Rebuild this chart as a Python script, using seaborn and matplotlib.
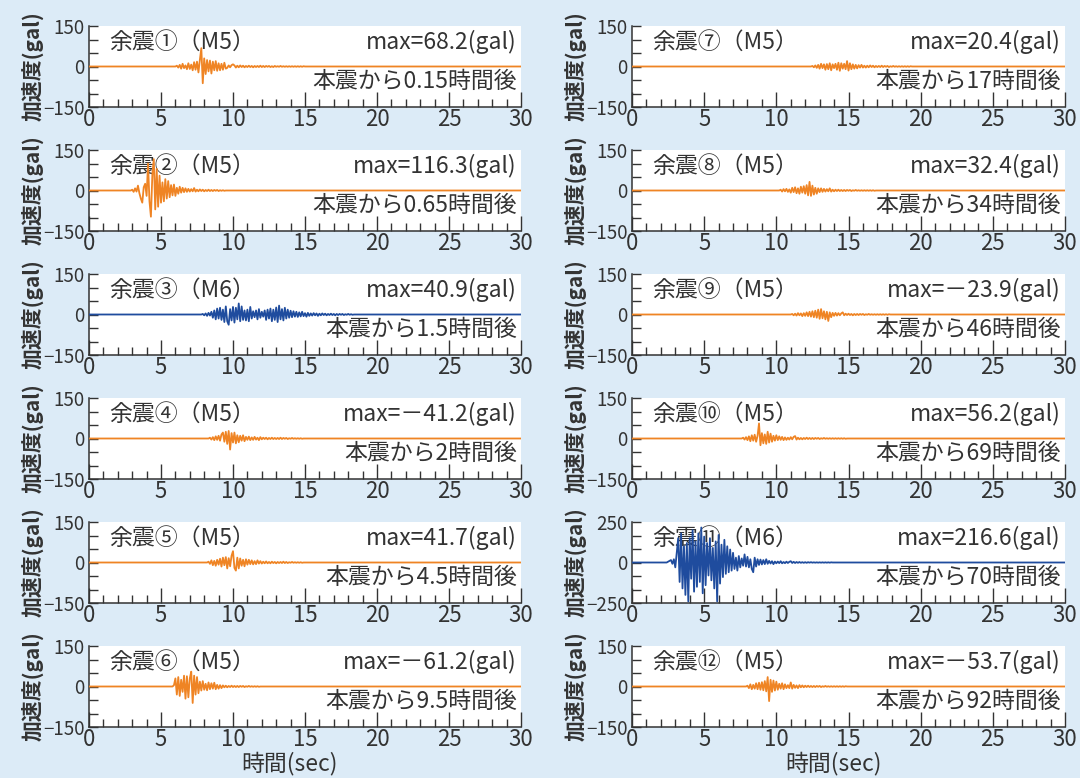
import numpy as np
import pandas as pd
import matplotlib
matplotlib.use("Agg")
import matplotlib.pyplot as plt
import seaborn as sns
from matplotlib.ticker import MultipleLocator, FixedLocator

# ==========================
# データ
# ==========================
DT = 0.1  # サンプリング間隔(sec)

names = ["余震①（M5）", "余震②（M5）", "余震③（M6）", "余震④（M5）", "余震⑤（M5）", "余震⑥（M5）",
         "余震⑦（M5）", "余震⑧（M5）", "余震⑨（M5）", "余震⑩（M5）", "余震⑪（M6）", "余震⑫（M5）"]
max_labels = ["max=68.2(gal)", "max=116.3(gal)", "max=40.9(gal)", "max=－41.2(gal)",
              "max=41.7(gal)", "max=－61.2(gal)", "max=20.4(gal)", "max=32.4(gal)",
              "max=－23.9(gal)", "max=56.2(gal)", "max=216.6(gal)", "max=－53.7(gal)"]
after_labels = ["本震から0.15時間後", "本震から0.65時間後", "本震から1.5時間後", "本震から2時間後",
                "本震から4.5時間後", "本震から9.5時間後", "本震から17時間後", "本震から34時間後",
                "本震から46時間後", "本震から69時間後", "本震から70時間後", "本震から92時間後"]
magnitudes = ["M5", "M5", "M6", "M5", "M5", "M5", "M5", "M5", "M5", "M5", "M6", "M5"]
y_max = [150, 150, 150, 150, 150, 150, 150, 150, 150, 150, 250, 150]

# 立ち上がり時刻(sec)
onsets = [6.0, 2.9, 7.8, 8.3, 8.2, 5.8, 12.4, 10.2, 11.0, 7.6, 2.4, 7.9]

acc_1 = [0, 3, -4, 6, -8, 10, -6, 4, -10, 12, -9, 7, -14, 16, -12,
         18, -22, 25, 68, -62, 30,
         -28, 24, -18, 22, -26, 18, -14, 20, -16, 12,
         -14, 10, -12, 14, -8, -5, 4, -3, 5, 8,
         4, -4, 3, -3, 4, -2, 3, -3, 2, -2,
         3, -2, 2, -3, 2, -2, 2, -2, 3, -2, 2, -2, 2, -1, 2, -2, 1, -2, 2, -1,
         1, -1, 2, -1, 1, -1, 1, -1, 1, -1, 1, -1, 1, -1, 1, -1, 1, -1, 1, 0]
acc_2 = [0, 3, -5, 8, -4,
         18, -10, -30, -45, 12, 25,
         -20, 100, -40, -97, 60, 116, -70, 80, -60, 55,
         -45, 30, -40, 42, -30, 35, -25, 20, -18, 22,
         -20, 10, -12, 14, -8, 10, -6, 8, -5, 6,
         -4, 5, -3, 9, -4, 3, -3, 4, -2, 3,
         -3, 2, -2, 3, -2, 2, -2, 2, -1, 2, -2, 1, -1, 1, -1, 0]
acc_3 = [0, 2, -3, 4, -5, 6, -4,
         10, -12, 15, -18, 22, -15, 25, -20, 18, -28,
         30, -25, -38, 20, -22, 28, -30, 25, -18, 41,
         -25, 30, -20, 15, -22, 18, -25, 28, -15, 12,
         -10, 15, -18, 20, -12, 10, -8, 15, -20, 18,
         -15, 22, -25, 18, -20, 26, -28, 33, -18, 20,
         -22, 25, -15, 18, -12, 14, -10, 12, -8, 10,
         -9, 8, -7, 10, -6, 5, -8, 6, -5, 4,
         -4, 5, -3, 4, -5, 3, -3, 4, -2, 3,
         -3, 2, -2, 3, -2, 2, -3, 2, -2, 2, -1, 2, -2, 1, -1, 2, -1, 1, -1, 0]
acc_4 = [0, 3, -4, 5, -6, 8, -5,
         10, -8, 15, 22, -12, 25, -20, 28, -41, 20,
         -15, 22, -18, 12, -14, 10, -8, 12, -10, 6,
         -5, 7, -6, 4, -5, 6, -4, 3, -6, 5,
         -3, 3, -2, 3, -3, 2, -2, 3, -2, 2, -2, 2, -2, 3, -2, 2, -1, 2, -2, 1,
         -1, 2, -1, 1, -1, 1, -1, 1, -1, 0]
acc_5 = [0, 3, -5, 8, -10, 6, -12, 10,
         -8, 14, -15, 18, -10, 20, -22, 16, -14, 25,
         42, -20, -30, 18, -22, 15, -12, 10, -14, 12,
         -8, 10, -6, 8, -7, 5, -6, 8, -4, 5,
         -4, 3, -3, 4, -3, 2, -3, 3, -2, 2, -3, 2, -2, 2, -2, 3, -2, 2, -2, 1,
         -1, 2, -1, 1, -1, 1, -1, 1, -1, 0]
acc_6 = [0, 5, 30, -30, 35, -35, 25,
         -20, 40, -45, 38, -40, 30, 55, -61, 40, -30,
         35, -25, 18, -15, 20, -12, 10, -14, 15, -10,
         12, -8, 14, -10, 6, -8, 5, -6, 4, -3,
         3, -3, 2, -2, 3, -2, 2, -2, 2, -2, 2, -1, 2, -2, 1, -1, 2, -1, 1, -1,
         1, -1, 1, -1, 0]
acc_7 = [0, 2, -3, 4, -5, 6,
         -8, 10, -6, 8, -12, 9, -10, 12, -14, 8,
         -6, 10, -12, 14, -16, 12, -8, 10, -10, 20,
         -15, 12, -10, 8, -8, 6, -7, 5, -4, 6,
         -4, 3, -4, 3, -3, 4, -2, 3, -3, 2,
         -2, 2, -2, 3, -2, 2, -1, 2, -2, 1, -1, 2, -1, 1, -1, 1, -1, 1, -1, 1,
         -1, 1, -1, 1, 0]
acc_8 = [0, 3, -4, 5, -3, 6, -5, 4,
         -8, 10, -6, 12, -10, 8, -12, 14, -8, 16,
         -12, 20, -18, 32, -20, 18, -15, 10, -12, 8,
         -6, 8, -5, 6, -4, 5, -3, 8, -4, 3,
         -3, 3, -2, 3, -2, 2, -2, 2, -2, 2, -1, 2, -2, 1, -1, 2, -1, 1, -1, 1,
         -1, 1, -1, 1, -1, 1, -1, 1, -1, 0]
acc_9 = [0, 2, -3, 3, -4, 5, -3, 4, -6, 5,
         -5, 8, -6, 10, -8, 12, -10, 14, -12, 18,
         -16, 20, -14, 12, -18, 10, -24, 8, -10, 6,
         -5, 6, -4, 5, -3, 4, 8, -3, 3, -2,
         3, -2, 2, -3, 2, -2, 2, -2, 2, -1, 2, -2, 1, -1, 2, -1, 1, -1, 1, -1,
         1, -1, 1, -1, 1, -1, 1, -1, 1, 0]
acc_10 = [0, 3, -4, 5,
          -6, 8, -10, 12, -8, 14, -12, 10, 56, -25,
          20, -18, 15, -20, 25, -15, 18, -12, 10, -8,
          12, -6, 8, -5, 6, -6, 4, -5, 3, -4,
          5, -3, 6, 9, -4, 3, -3, 2, -3, 2,
          -2, 3, -2, 2, -2, 2, -2, 2, -1, 2, -2, 1, -1, 2, -1, 1, -1, 1, -1, 1,
          -1, 1, -1, 1, -1, 1, -1, 1, -1, 0]
acc_11 = [0, 5, 10, 15, -8, 20,
          -30, 60, 150, -120, 180, -160, 100, -200, 120, -240,
          150, -100, 200, -180, 130, -150, 180, -120, 216, -190,
          160, -140, 120, -80, 150, -110, 90, -160, 130, -240,
          170, -130, 110, -90, 140, -70, 100, -60, 80, -50,
          60, -40, 30, -50, 40, -30, 25, -20, 50, -25,
          35, -30, 20, -40, -60, 30, -25, 20, -15, 18,
          -12, 15, -10, 20, -8, 10, -6, 8, -10, 6,
          -5, 6, -4, 8, -5, 3, -4, 5, -3, 4,
          8, -3, 4, -3, 3, -2, 3, -2, 2, -2, 2, -2, 2, -1, 2, -1, 1, -1, 1, -1,
          1, -1, 1, -1, 1, -1, 1, -1, 1, 0]
acc_12 = [0, 3, -6, 8, -10, 6, -8, 12, -10, 14, -12,
          16, -14, 20, -18, 35, -54, 25, -20, 22, -15,
          18, -12, 10, -8, 12, -10, 8, -6, 5, -6,
          15, -8, 6, -5, 4, -6, 5, -3, 4, -3,
          3, -2, 3, -2, 2, -2, 2, -2, 2, -1, 2, -2, 1, -1, 2, -1, 1, -1, 1, -1,
          1, -1, 1, -1, 1, -1, 1, -1, 1, 0]
records = [acc_1, acc_2, acc_3, acc_4, acc_5, acc_6,
           acc_7, acc_8, acc_9, acc_10, acc_11, acc_12]

x_ticks = [0, 5, 10, 15, 20, 25, 30]

# ==========================
# スタイル
# ==========================
sns.set_theme(style="ticks")
plt.rcParams["font.family"] = ["Noto Sans CJK JP", "DejaVu Sans"]

BG = "#dcebf7"
ORANGE = "#ef8424"
BLUE = "#1f4c9e"
DARK = "#333333"

fig = plt.figure(figsize=(10.8, 7.78), dpi=100, facecolor=BG)

W, H = 1080, 778
col_left = [89, 632]
col_width = [432, 433]
row_top0, row_step, ax_h = 26, 124, 81

for i, acc in enumerate(records):
    col, row = divmod(i, 6)
    top = row_top0 + row * row_step
    ax = fig.add_axes([col_left[col] / W, 1 - (top + ax_h) / H,
                       col_width[col] / W, ax_h / H])
    ax.set_facecolor("white")

    t = onsets[i] + DT * np.arange(len(acc))
    df = pd.DataFrame({
        "time": np.concatenate([[0.0], t, [30.0]]),
        "acc": np.concatenate([[0.0], np.asarray(acc, float), [0.0]]),
    })
    color = BLUE if magnitudes[i] == "M6" else ORANGE
    sns.lineplot(data=df, x="time", y="acc", ax=ax, color=color,
                 linewidth=1.3, estimator=None, zorder=3)

    ym = y_max[i]
    ax.set_xlim(0, 30)
    ax.set_ylim(-ym, ym)
    ax.set_xticks(x_ticks)
    ax.xaxis.set_minor_locator(MultipleLocator(1))
    ax.set_yticks([-ym, 0, ym])
    ax.yaxis.set_minor_locator(FixedLocator(np.linspace(-ym, ym, 7)))

    for side in ["top", "right"]:
        ax.spines[side].set_visible(False)
    for side in ["left", "bottom"]:
        ax.spines[side].set_linewidth(1.1)
        ax.spines[side].set_color(DARK)

    ax.tick_params(axis="x", which="major", direction="in", length=11, width=1.0,
                   color=DARK, labelsize=16, labelcolor=DARK, pad=1)
    ax.tick_params(axis="x", which="minor", direction="in", length=6, width=1.0,
                   color=DARK)
    ax.tick_params(axis="y", which="both", direction="in", length=6.5, width=1.0,
                   color=DARK, labelsize=13.5, labelcolor=DARK, pad=3)

    ax.set_ylabel("加速度(gal)", fontsize=15, fontweight="bold", color=DARK)
    ax.yaxis.set_label_coords(-0.105, 0.5)
    if row == 5:
        ax.set_xlabel("時間(sec)", fontsize=16.5, color=DARK)
        ax.xaxis.set_label_coords(0.465, -0.30)
    else:
        ax.set_xlabel("")

    ax.text(0.047, 0.8, names[i], transform=ax.transAxes, fontsize=16.5,
            color=DARK, ha="left", va="center", zorder=2)
    ax.text(0.99, 0.8, max_labels[i], transform=ax.transAxes, fontsize=16.5,
            color=DARK, ha="right", va="center", zorder=2)
    ax.text(0.99, 0.32, after_labels[i], transform=ax.transAxes, fontsize=16.5,
            color=DARK, ha="right", va="center", zorder=2)

fig.savefig("out.png", dpi=100, facecolor=BG)
